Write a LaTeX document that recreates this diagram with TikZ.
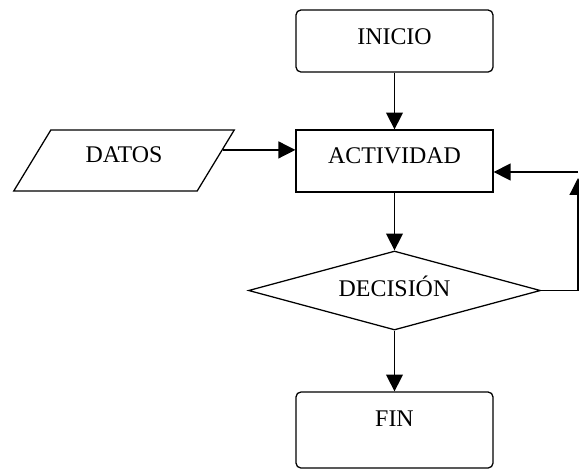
\documentclass[tikz,border=0pt]{standalone}
\usepackage{fontspec}
\setmainfont{Liberation Serif}
\usetikzlibrary{shapes.geometric,arrows.meta,calc}
\newcommand{\pix}{0.025cm}

\begin{document}
\begin{tikzpicture}[x=\pix, y=-\pix, >={Triangle[length=12pt,width=12pt]},
    line width=0.9pt, font=\fontsize{17}{20}\selectfont,
    caja/.style={draw, rectangle, minimum width=197*\pix, minimum height=62*\pix, inner sep=0pt, text height=11.2pt},
    redonda/.style={caja, rounded corners=3.5pt}]
        \useasboundingbox (0,0) rectangle (579,470);

        % INICIO (top)
        \node[redonda, text depth=6.4pt] (inicio) at (394.5,41) {INICIO};

        % ACTIVIDAD
        \node[caja, text depth=7.8pt] (actividad) at (394.5,161) {ACTIVIDAD};

        % DATOS, parallelogram on the left
        \node[draw, trapezium, trapezium left angle=54, trapezium right angle=126, trapezium stretches=true,
              minimum width=222*\pix, minimum height=61*\pix, inner sep=0pt,
              text height=11.2pt, text depth=7.8pt] (datos) at (124,160.5) {DATOS};

        % DECISION diamond
        \node[draw, diamond, aspect=3.7, minimum width=292*\pix, minimum height=79*\pix, inner sep=0pt,
              text height=11.2pt, text depth=2pt] (decision) at (394.5,290.5) {DECISIÓN};

        % FIN (bottom)
        \node[redonda, minimum height=76*\pix, text depth=16.4pt] (fin) at (394.5,430) {FIN};

        % Arrows
        \draw[->] (inicio) -- (actividad);
        \draw[->] (actividad) -- (decision);
        \draw[->] (decision) -- (fin);

        % DATOS -> ACTIVIDAD
        \coordinate (salida) at ($(datos.top right corner)!0.33!(datos.bottom right corner)$);
        \draw[->] (salida) -- (actividad.west |- salida);

        % loop back: DECISION -> ACTIVIDAD
        \coordinate (retorno) at (578,172);
        \draw[->] (decision.east) -| ($(retorno)+(0,6)$);
        \draw[->] (retorno) -- (actividad.east |- retorno);

    \end{tikzpicture}
\end{document}
